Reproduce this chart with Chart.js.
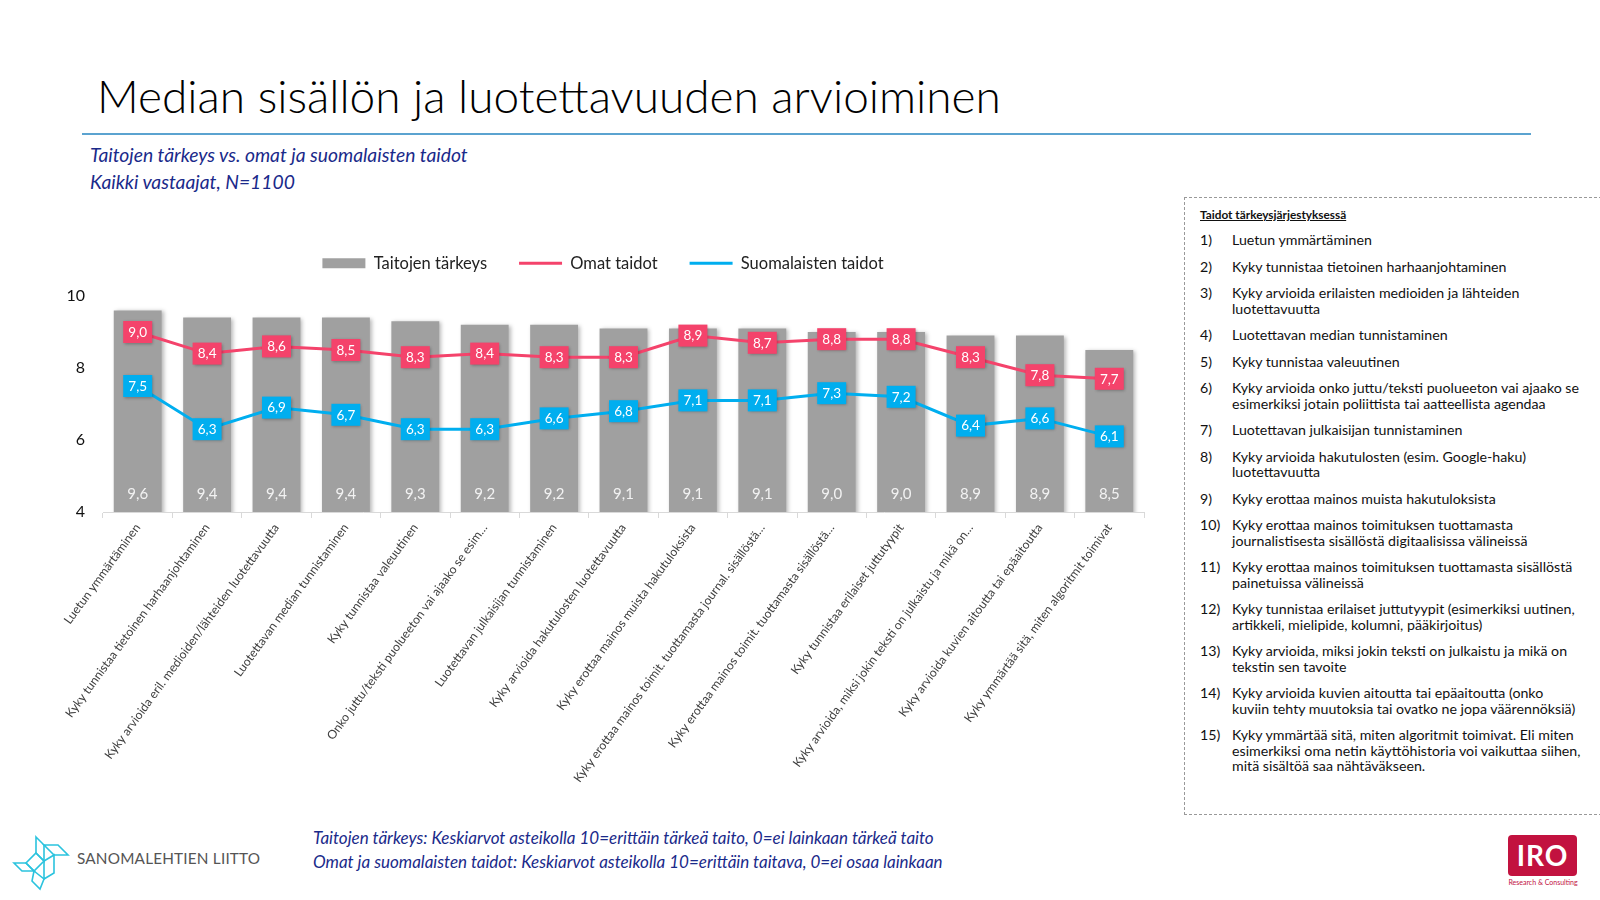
<!DOCTYPE html>
<html>
<head>
<meta charset="utf-8">
<script src="https://cdn.jsdelivr.net/npm/chart.js@4"></script>
<style>
  body { margin: 0; width: 1600px; height: 900px; background: #fff; font-family: Lato, "Open Sans", sans-serif; position: relative; overflow: hidden; }
  .title { position: absolute; left: 97px; top: 68px; font-size: 46px; font-weight: 300; color: #000; white-space: nowrap; }
  .rule { position: absolute; left: 82px; top: 133px; width: 1449px; height: 2px; background: #5BA3D0; }
  .sub { position: absolute; left: 90px; font-style: italic; font-size: 19.3px; color: #1A2A8A; white-space: nowrap; }
  #wrap { position: absolute; left: 40px; top: 223px; width: 1120px; height: 560px; }
  .panel { position: absolute; left: 1184px; top: 197px; width: 418px; height: 618px; border: 1px dashed #999; box-sizing: border-box; padding: 9px 0 0 15px; font-size: 14.2px; color: #111; }
  .panel h4 { margin: 0 0 10px 0; font-size: 11.8px; line-height: 15px; font-weight: bold; text-decoration: underline; }
  .item { display: flex; line-height: 15.5px; margin-bottom: 11px; white-space: nowrap; }
  .item .n { width: 32px; flex: none; }
  .foot { position: absolute; left: 313px; font-style: italic; font-size: 17px; color: #1A2A8A; white-space: nowrap; }
  .slname { position: absolute; left: 77px; top: 849px; font-size: 15.3px; color: #555; letter-spacing: 0.2px; }
  .iro { position: absolute; left: 1508px; top: 835px; width: 69px; height: 41px; background: #C2123F; border-radius: 4px; color: #fff; font-weight: bold; font-size: 28px; line-height: 41px; text-align: center; letter-spacing: 1px; }
  .iro2 { position: absolute; left: 1504px; top: 878px; width: 78px; font-size: 7px; color: #C2123F; text-align: center; }
</style>
</head>
<body>
<div class="title">Median sisällön ja luotettavuuden arvioiminen</div>
<div class="rule"></div>
<div class="sub" style="top:143px">Taitojen tärkeys vs. omat ja suomalaisten taidot</div>
<div class="sub" style="top:170px">Kaikki vastaajat, N=1100</div>

<div id="wrap"><canvas id="chart"></canvas></div>

<div class="panel" id="panel"><h4>Taidot tärkeysjärjestyksessä</h4></div>

<div class="foot" style="top:827px">Taitojen tärkeys: Keskiarvot asteikolla 10=erittäin tärkeä taito, 0=ei lainkaan tärkeä taito</div>
<div class="foot" style="top:851px">Omat ja suomalaisten taidot: Keskiarvot asteikolla 10=erittäin taitava, 0=ei osaa lainkaan</div>

<svg style="position:absolute;left:10px;top:833px" width="62" height="60" viewBox="0 0 62 60" fill="none" stroke="#2BC3DE" stroke-width="1.6">
  <polygon points="26,4 34,12 34,28 26,20"/>
  <polygon points="34,12 48,12 58,22 44,22"/>
  <polygon points="26,20 34,28 24,38 16,30"/>
  <polygon points="4,30 16,30 24,38 12,38"/>
  <polygon points="34,28 44,22 44,40 34,46"/>
  <polygon points="24,38 34,46 30,56 22,48"/>
</svg>
<div class="slname">SANOMALEHTIEN LIITTO</div>
<div class="iro">IRO</div>
<div class="iro2">Research &amp; Consulting</div>

<script>
// categories (x axis, shortened as in the chart)
const categories = [
  'Luetun ymmärtäminen',
  'Kyky tunnistaa tietoinen harhaanjohtaminen',
  'Kyky arvioida eril. medioiden/lähteiden luotettavuutta',
  'Luotettavan median tunnistaminen',
  'Kyky tunnistaa valeuutinen',
  'Onko juttu/teksti puolueeton vai ajaako se esim…',
  'Luotettavan julkaisijan tunnistaminen',
  'Kyky arvioida hakutulosten luotettavuutta',
  'Kyky erottaa mainos muista hakutuloksista',
  'Kyky erottaa mainos toimit. tuottamasta journal. sisällöstä…',
  'Kyky erottaa mainos toimit. tuottamasta sisällöstä…',
  'Kyky tunnistaa erilaiset juttutyypit',
  'Kyky arvioida, miksi jokin teksti on julkaistu ja mikä on…',
  'Kyky arvioida kuvien aitoutta tai epäaitoutta',
  'Kyky ymmärtää sitä, miten algoritmit toimivat'
];

const tarkeys = [9.6, 9.4, 9.4, 9.4, 9.3, 9.2, 9.2, 9.1, 9.1, 9.1, 9.0, 9.0, 8.9, 8.9, 8.5];
const omat = [9.0, 8.4, 8.6, 8.5, 8.3, 8.4, 8.3, 8.3, 8.9, 8.7, 8.8, 8.8, 8.3, 7.8, 7.7];
const suomalaiset = [7.5, 6.3, 6.9, 6.7, 6.3, 6.3, 6.6, 6.8, 7.1, 7.1, 7.3, 7.2, 6.4, 6.6, 6.1];

const yTicks = [4, 6, 8, 10];

// full skill names for the side panel (line breaks as in the slide)
const skillList = [
  'Luetun ymmärtäminen',
  'Kyky tunnistaa tietoinen harhaanjohtaminen',
  'Kyky arvioida erilaisten medioiden ja lähteiden\nluotettavuutta',
  'Luotettavan median tunnistaminen',
  'Kyky tunnistaa valeuutinen',
  'Kyky arvioida onko juttu/teksti puolueeton vai ajaako se\nesimerkiksi jotain poliittista tai aatteellista agendaa',
  'Luotettavan julkaisijan tunnistaminen',
  'Kyky arvioida hakutulosten (esim. Google-haku)\nluotettavuutta',
  'Kyky erottaa mainos muista hakutuloksista',
  'Kyky erottaa mainos toimituksen tuottamasta\njournalistisesta sisällöstä digitaalisissa välineissä',
  'Kyky erottaa mainos toimituksen tuottamasta sisällöstä\npainetuissa välineissä',
  'Kyky tunnistaa erilaiset juttutyypit (esimerkiksi uutinen,\nartikkeli, mielipide, kolumni, pääkirjoitus)',
  'Kyky arvioida, miksi jokin teksti on julkaistu ja mikä on\ntekstin sen tavoite',
  'Kyky arvioida kuvien aitoutta tai epäaitoutta (onko\nkuviin tehty muutoksia tai ovatko ne jopa väärennöksiä)',
  'Kyky ymmärtää sitä, miten algoritmit toimivat. Eli miten\nesimerkiksi oma netin käyttöhistoria voi vaikuttaa siihen,\nmitä sisältöä saa nähtäväkseen.'
];

const panel = document.getElementById('panel');
skillList.forEach((s, i) => {
    const d = document.createElement('div');
    d.className = 'item';
    d.innerHTML = `<span class="n">${i + 1})</span><span>${s.replace(/\n/g, '<br>')}</span>`;
    panel.appendChild(d);
});

const RED = '#F4436B';
const BLUE = '#00AEEF';
const GRAY = '#A0A0A0';
const fmt = v => v.toFixed(1).replace('.', ',');

// shadow under bars
const barShadow = {
    id: 'barShadow',
    beforeDatasetDraw(chart, args) {
        if (args.index !== 0) return;
        const ctx = chart.ctx;
        ctx.save();
        ctx.shadowColor = 'rgba(0,0,0,0.28)';
        ctx.shadowBlur = 4;
        ctx.shadowOffsetX = 2;
        ctx.shadowOffsetY = 1;
    },
    afterDatasetDraw(chart, args) {
        if (args.index === 0) chart.ctx.restore();
    }
};

// more room between legend and plot, legend nudged right a bit
const legendRoom = {
    id: 'legendRoom',
    afterInit(chart) {
        const lg = chart.legend;
        if (!lg) return;
        const fit = lg.fit;
        lg.fit = function () {
            fit.call(this);
            this.height = 73;
        };
        const draw = lg.draw;
        lg.draw = function () {
            chart.ctx.save();
            chart.ctx.translate(11, 0);
            draw.apply(this, arguments);
            chart.ctx.restore();
        };
    }
};

// value labels: boxes on the lines, plain text at bar bottoms
const valueLabels = {
    id: 'valueLabels',
    afterDatasetsDraw(chart) {
        const ctx = chart.ctx;
        const bottom = chart.chartArea.bottom;
        ctx.save();
        ctx.textAlign = 'center';
        ctx.textBaseline = 'middle';
        ctx.font = '15px Lato, sans-serif';
        ctx.fillStyle = '#F2F2F2';
        chart.getDatasetMeta(0).data.forEach((bar, i) => {
            ctx.fillText(fmt(tarkeys[i]), bar.x, bottom - 18);
        });
        [[1, omat, RED], [2, suomalaiset, BLUE]].forEach(([idx, vals, col]) => {
            chart.getDatasetMeta(idx).data.forEach((pt, i) => {
                const w = 29, h = 22;
                ctx.shadowColor = 'rgba(0,0,0,0.3)';
                ctx.shadowBlur = 3;
                ctx.shadowOffsetX = 1;
                ctx.shadowOffsetY = 1;
                ctx.fillStyle = col;
                ctx.fillRect(pt.x - w / 2, pt.y - h / 2, w, h);
                ctx.shadowColor = 'transparent';
                ctx.fillStyle = '#fff';
                ctx.font = '13.5px Lato, sans-serif';
                ctx.fillText(fmt(vals[i]), pt.x, pt.y + 0.5);
            });
        });
        ctx.restore();
    }
};

new Chart(document.getElementById('chart'), {
    type: 'bar',
    data: {
        labels: categories,
        datasets: [
            { label: 'Taitojen tärkeys', data: tarkeys, backgroundColor: GRAY, order: 2,
              categoryPercentage: 1, barPercentage: 0.69 },
            { type: 'line', label: 'Omat taidot', data: omat, borderColor: RED, backgroundColor: RED,
              borderWidth: 3, pointRadius: 0, tension: 0, order: 1 },
            { type: 'line', label: 'Suomalaisten taidot', data: suomalaiset, borderColor: BLUE, backgroundColor: BLUE,
              borderWidth: 3, pointRadius: 0, tension: 0, order: 0 }
        ]
    },
    options: {
        responsive: true,
        maintainAspectRatio: false,
        animation: false,
        layout: { padding: { top: 0, right: 16, left: 0, bottom: 0 } },
        plugins: {
            tooltip: { enabled: false },
            legend: {
                position: 'top',
                labels: {
                    font: { family: 'Lato', size: 16.5 },
                    color: '#222',
                    usePointStyle: true,
                    pointStyleWidth: 43,
                    boxHeight: 10,
                    padding: 32,
                    sort: (a, b) => a.datasetIndex - b.datasetIndex,
                    generateLabels(chart) {
                        const items = Chart.defaults.plugins.legend.labels.generateLabels(chart);
                        items.forEach(it => {
                            it.pointStyle = it.datasetIndex === 0 ? 'rect' : 'line';
                            it.lineWidth = it.datasetIndex === 0 ? 0 : 3;
                        });
                        return items;
                    }
                }
            }
        },
        scales: {
            x: {
                grid: { display: true, drawOnChartArea: false, offset: true, tickLength: 6, color: '#D9D9D9' },
                border: { color: '#D9D9D9' },
                ticks: {
                    autoSkip: false, maxRotation: 54, minRotation: 54,
                    font: { family: 'Lato', size: 12.2 }, color: '#404040', padding: 3
                },
                afterFit(scale) { scale.height = 271; }
            },
            y: {
                min: 4, max: 10,
                grid: { display: false },
                border: { display: false },
                afterBuildTicks(scale) { scale.ticks = yTicks.map(v => ({ value: v })); },
                ticks: { font: { family: 'Lato', size: 16 }, color: '#111', padding: 10 },
                afterFit(scale) { scale.width = 63; }
            }
        }
    },
    plugins: [barShadow, legendRoom, valueLabels]
});
</script>
</body>
</html>
